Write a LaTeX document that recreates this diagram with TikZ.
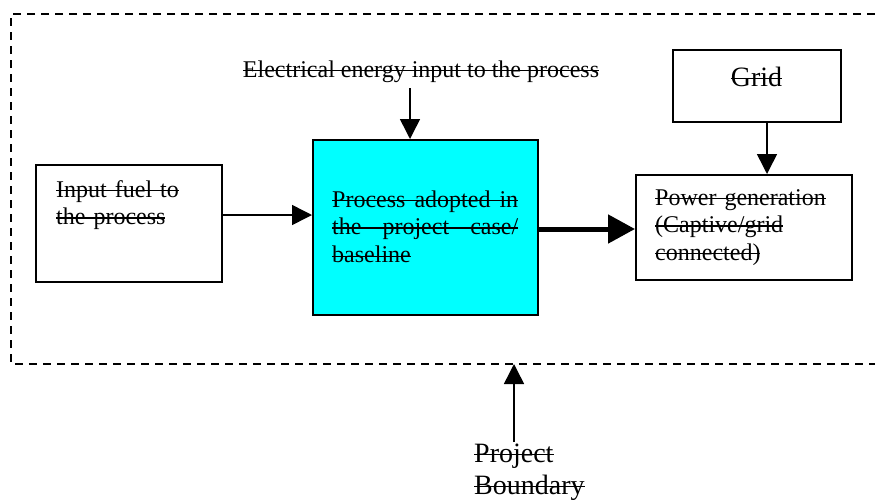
\documentclass[tikz,border=0pt]{standalone}
\usepackage{fontspec}
\setmainfont{Liberation Serif}
\usetikzlibrary{arrows.meta}
\newsavebox\stkbox
\newcommand\stk[1]{\leavevmode\sbox\stkbox{#1}\makebox[0pt][l]{\rule[0.24em]{\wd\stkbox}{1.3pt}}\usebox\stkbox}
\definecolor{procfill}{RGB}{0,255,255}
\tikzset{
  box/.style={draw, line width=1.5pt, inner sep=0pt, anchor=north west},
  txt/.style={inner sep=0pt, anchor=base west, align=left, font=\fontsize{24}{27.5}\selectfont},
  line/.style={inner sep=0pt, anchor=base west, font=\fontsize{24}{27.5}\selectfont},
  bigtxt/.style={inner sep=0pt, font=\fontsize{28}{32}\selectfont},
  strike/.style={line width=1.3pt},
  arr/.style={line width=1.5pt, -{Triangle[length=20pt,width=20pt]}},
  thickarr/.style={line width=5pt, -{Triangle[length=27pt,width=28pt]}},
  boundary/.style={line width=2pt, dash pattern=on 8pt off 6pt}
}
\begin{document}
\begin{tikzpicture}[x=1pt,y=-1pt]
\useasboundingbox (0,0) rectangle (875,499);
% project boundary (dashed)
\coordinate (btl) at (11,14);
\coordinate (bbl) at (11,364);
\draw[boundary] (875,14) -- (btl) -- (bbl) -- (875,364);
% boxes
\node[box, minimum width=186pt, minimum height=117pt] (fuel) at (35,164) {};
\node[box, fill=procfill, minimum width=225pt, minimum height=175pt] (proc) at (312,139) {};
\node[box, minimum width=216pt, minimum height=105pt] (power) at (635,174) {};
\node[box, minimum width=168pt, minimum height=72pt] (grid) at (672,49) {};
% texts
\node[txt, text width=160pt] (fueltxt) at (56,197) {\stk{Input fuel to}\\\stk{the process}};
\node[line] (proc1) at (332,207) {\stk{\hbox to 186pt{Process\hfill adopted\hfill in}}};
\node[line] (proc2) at (332,234.5) {\stk{\hbox to 186pt{the\hfill project\hfill case/}}};
\node[line] (proc3) at (332,262) {baseline};
\draw[strike] ([yshift=5.8pt]proc3.base west) -- ([yshift=5.8pt]proc3.base east);
\node[txt, text width=200pt] (powertxt) at (655,205) {\stk{Power generation}\\\stk{(Captive/grid}\\\stk{connected)}};
\node[bigtxt, anchor=base] (gridtxt) at (756.5,86) {\stk{Grid}};
\node[txt, anchor=base] (elec) at (421,77) {\stk{Electrical energy input to the process}};
\node[bigtxt, anchor=base west, align=left, text width=150pt] (pb) at (474,462) {\stk{Project}\\\stk{Boundary}};
% connectors
\coordinate (ea) at (410,88);
\draw[arr] (ea) -- (ea |- proc.north);
\coordinate (ga) at (767,121);
\draw[arr] (ga) -- (ga |- power.north);
\coordinate (fa) at (221,215);
\draw[arr] (fa) -- (fa -| proc.west);
\coordinate (pa) at (537,229);
\draw[thickarr] (pa) -- (pa -| power.west);
\coordinate (ba) at (514,442);
\draw[arr] (ba) -- (ba |- bbl);
\end{tikzpicture}
\end{document}
